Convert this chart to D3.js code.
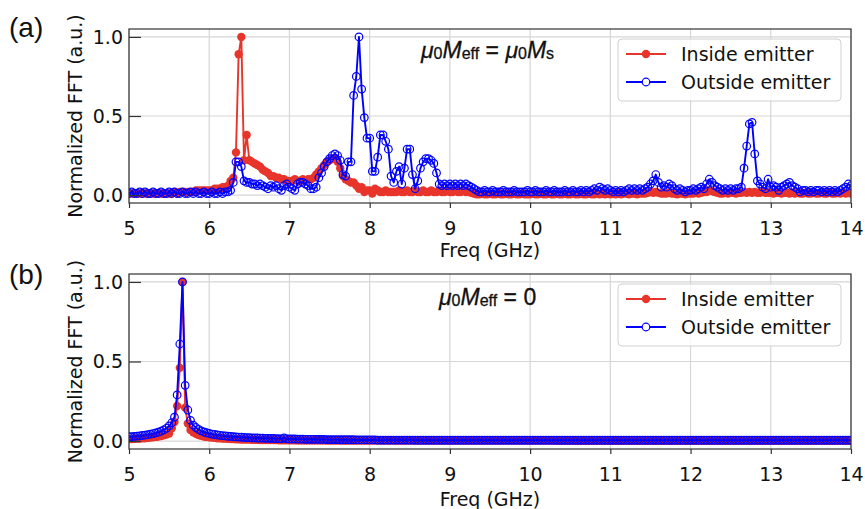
<!DOCTYPE html>
<html>
<head>
<meta charset="utf-8">
<script src="https://cdn.jsdelivr.net/npm/d3@7"></script>
<style>
  body { margin: 0; background: #fff; }
  svg { display: block; }
</style>
</head>
<body>
<svg id="chart" width="865" height="509"></svg>
<script>
// FFT bins: 5–14 GHz, 1/30 GHz resolution
const freqStart = 5;
const freqStep = 1 / 30;

// Tick labels
const xTickLabels = [5, 6, 7, 8, 9, 10, 11, 12, 13, 14];
const yTickLabels = [0.0, 0.5, 1.0];

// Series names
const seriesNames = ["Inside emitter", "Outside emitter"];

// (a) mu0 Meff = mu0 Ms — normalized FFT amplitude inside the emitter
const insideA = [
  0.01,0.01,0.01,0.01,0.01,0.01,0.01,0.01,0.01,0.01, 0.01,0.01,0.01,0.01,0.01,0.01,0.01,0.02,0.01,0.02, 0.02,0.02,0.02,0.02,0.02,0.03,0.03,0.03,0.03,0.03,
  0.03,0.03,0.04,0.04,0.04,0.05,0.05,0.06,0.09,0.11, 0.27,0.89,1.00,0.22,0.38,0.22,0.21,0.20,0.19,0.18, 0.16,0.15,0.14,0.12,0.12,0.11,0.11,0.10,0.10,0.09,
  0.09,0.09,0.10,0.09,0.09,0.10,0.09,0.10,0.10,0.11, 0.13,0.15,0.17,0.19,0.21,0.22,0.23,0.23,0.21,0.17, 0.12,0.10,0.09,0.08,0.08,0.06,0.04,0.05,0.02,0.03,
  0.03,0.01,0.04,0.03,0.02,0.02,0.03,0.02,0.02,0.02, 0.02,0.03,0.02,0.02,0.03,0.02,0.02,0.03,0.02,0.02, 0.03,0.02,0.02,0.03,0.02,0.02,0.03,0.02,0.02,0.03,
  0.02,0.02,0.03,0.02,0.02,0.03,0.02,0.02,0.015,0.01, 0.005,0.005,0.01,0.005,0.005,0.01,0.005,0.005,0.01,0.005, 0.005,0.01,0.005,0.005,0.01,0.005,0.005,0.01,0.005,0.005,
  0.005,0.01,0.005,0.005,0.01,0.005,0.005,0.01,0.005,0.005, 0.01,0.005,0.005,0.01,0.005,0.005,0.01,0.005,0.005,0.01, 0.005,0.005,0.01,0.005,0.005,0.01,0.005,0.01,0.005,0.01,
  0.005,0.01,0.005,0.01,0.005,0.01,0.01,0.005,0.01,0.01, 0.005,0.01,0.01,0.01,0.015,0.02,0.015,0.02,0.015,0.01, 0.01,0.01,0.015,0.01,0.01,0.005,0.01,0.01,0.005,0.01,
  0.01,0.01,0.015,0.01,0.015,0.02,0.02,0.03,0.025,0.02, 0.015,0.01,0.01,0.015,0.01,0.015,0.015,0.01,0.015,0.015, 0.02,0.015,0.02,0.015,0.02,0.015,0.015,0.02,0.015,0.015,
  0.015,0.01,0.015,0.015,0.01,0.015,0.015,0.01,0.015,0.01, 0.015,0.01,0.01,0.015,0.01,0.01,0.015,0.01,0.01,0.015, 0.01,0.01,0.015,0.01,0.01,0.015,0.01,0.015,0.01,0.015,
  0.01
];

// (a) normalized FFT amplitude outside the emitter
const outsideA = [
  0.01,0.02,0.01,0.01,0.02,0.01,0.02,0.01,0.01,0.02, 0.01,0.01,0.02,0.01,0.01,0.02,0.01,0.02,0.01,0.01, 0.02,0.01,0.01,0.02,0.01,0.02,0.01,0.01,0.02,0.01,
  0.01,0.02,0.01,0.01,0.02,0.01,0.02,0.02,0.03,0.08, 0.21,0.21,0.18,0.09,0.08,0.08,0.07,0.07,0.06,0.07, 0.06,0.05,0.04,0.06,0.05,0.06,0.04,0.03,0.06,0.07,
  0.05,0.04,0.03,0.07,0.08,0.08,0.07,0.06,0.04,0.04, 0.05,0.11,0.14,0.18,0.21,0.23,0.25,0.26,0.25,0.22, 0.13,0.12,0.21,0.21,0.63,0.75,1.00,0.67,0.49,0.36,
  0.36,0.15,0.15,0.24,0.38,0.38,0.34,0.29,0.12,0.08, 0.15,0.18,0.07,0.17,0.29,0.29,0.13,0.04,0.09,0.17, 0.21,0.23,0.23,0.22,0.20,0.14,0.07,0.06,0.07,0.06,
  0.07,0.06,0.07,0.06,0.07,0.06,0.07,0.06,0.05,0.04, 0.03,0.02,0.02,0.03,0.02,0.02,0.03,0.02,0.02,0.02, 0.03,0.02,0.02,0.02,0.03,0.02,0.02,0.02,0.02,0.03,
  0.02,0.02,0.03,0.02,0.02,0.02,0.03,0.02,0.02,0.03, 0.02,0.02,0.02,0.03,0.02,0.02,0.03,0.02,0.02,0.03, 0.02,0.03,0.02,0.03,0.04,0.03,0.05,0.04,0.03,0.04,
  0.03,0.02,0.03,0.02,0.03,0.02,0.03,0.04,0.03,0.04, 0.03,0.04,0.03,0.04,0.05,0.07,0.09,0.13,0.08,0.05, 0.06,0.05,0.07,0.06,0.04,0.03,0.04,0.03,0.02,0.03,
  0.03,0.04,0.03,0.04,0.05,0.04,0.07,0.10,0.08,0.06, 0.05,0.04,0.03,0.04,0.03,0.04,0.03,0.04,0.04,0.05, 0.17,0.31,0.45,0.46,0.26,0.09,0.07,0.05,0.04,0.10,
  0.05,0.06,0.05,0.03,0.05,0.06,0.07,0.08,0.06,0.05, 0.04,0.02,0.03,0.03,0.02,0.03,0.02,0.03,0.03,0.02, 0.03,0.02,0.03,0.02,0.03,0.02,0.03,0.04,0.05,0.07,
  0.06
];

// (b) mu0 Meff = 0 — normalized FFT amplitude inside the emitter
const insideB = [
  0.012,0.013,0.014,0.015,0.016,0.017,0.018,0.020,0.022,0.024, 0.026,0.029,0.032,0.036,0.041,0.048,0.080,0.12,0.22,0.46, 1.00,0.21,0.11,0.07,0.055,0.045,0.038,0.033,0.029,0.026,
  0.024,0.022,0.020,0.018,0.017,0.016,0.015,0.014,0.013,0.012, 0.011,0.011,0.010,0.010,0.009,0.009,0.008,0.008,0.008,0.007, 0.007,0.007,0.006,0.006,0.006,0.006,0.005,0.005,0.005,0.005,
  0.005,0.005,0.005,0.004,0.004,0.004,0.004,0.004,0.004,0.004, 0.004,0.004,0.004,0.004,0.003,0.003,0.003,0.003,0.003,0.003, 0.003,0.003,0.003,0.003,0.003,0.003,0.003,0.003,0.003,0.003,
  0.003,0.003,0.003,0.003,0.003,0.003,0.003,0.003,0.003,0.003, 0.003,0.003,0.003,0.003,0.003,0.003,0.003,0.003,0.003,0.003, 0.003,0.003,0.003,0.003,0.003,0.003,0.003,0.003,0.003,0.003,
  0.003,0.003,0.003,0.003,0.003,0.003,0.003,0.003,0.003,0.003, 0.003,0.003,0.003,0.003,0.003,0.003,0.003,0.003,0.003,0.003, 0.003,0.003,0.003,0.003,0.003,0.003,0.003,0.003,0.003,0.003,
  0.003,0.003,0.003,0.003,0.003,0.003,0.003,0.003,0.003,0.003, 0.002,0.002,0.002,0.002,0.002,0.002,0.002,0.002,0.002,0.002, 0.002,0.002,0.002,0.002,0.002,0.002,0.002,0.002,0.002,0.002,
  0.002,0.002,0.002,0.002,0.002,0.002,0.002,0.002,0.002,0.002, 0.002,0.002,0.002,0.002,0.002,0.002,0.002,0.002,0.002,0.002, 0.002,0.002,0.002,0.002,0.002,0.002,0.002,0.002,0.002,0.002,
  0.002,0.002,0.002,0.002,0.002,0.002,0.002,0.002,0.002,0.002, 0.002,0.002,0.002,0.002,0.002,0.002,0.002,0.002,0.002,0.002, 0.002,0.002,0.002,0.002,0.002,0.002,0.002,0.002,0.002,0.002,
  0.002,0.002,0.002,0.002,0.002,0.002,0.002,0.002,0.002,0.002, 0.002,0.002,0.002,0.002,0.002,0.002,0.002,0.002,0.002,0.002, 0.002,0.002,0.002,0.002,0.002,0.002,0.002,0.002,0.002,0.002,
  0.002
];

// (b) normalized FFT amplitude outside the emitter
const outsideB = [
  0.027,0.028,0.029,0.031,0.033,0.035,0.037,0.040,0.043,0.047, 0.051,0.056,0.062,0.070,0.080,0.095,0.115,0.15,0.29,0.61, 1.00,0.35,0.195,0.13,0.10,0.085,0.073,0.064,0.057,0.052,
  0.048,0.044,0.041,0.038,0.036,0.034,0.032,0.030,0.029,0.027, 0.026,0.025,0.024,0.023,0.022,0.021,0.020,0.020,0.019,0.018, 0.018,0.017,0.017,0.016,0.016,0.015,0.015,0.014,0.020,0.014,
  0.013,0.013,0.013,0.012,0.012,0.012,0.011,0.011,0.011,0.011, 0.010,0.010,0.010,0.010,0.009,0.009,0.009,0.009,0.009,0.008, 0.008,0.008,0.008,0.008,0.008,0.007,0.007,0.007,0.007,0.007,
  0.007,0.007,0.007,0.006,0.006,0.006,0.006,0.006,0.006,0.006, 0.006,0.006,0.006,0.006,0.006,0.006,0.006,0.005,0.005,0.005, 0.005,0.005,0.005,0.005,0.005,0.005,0.005,0.005,0.005,0.005,
  0.005,0.005,0.005,0.005,0.005,0.005,0.005,0.005,0.005,0.005, 0.005,0.005,0.005,0.005,0.005,0.005,0.005,0.005,0.005,0.005, 0.005,0.005,0.005,0.005,0.005,0.005,0.005,0.005,0.005,0.005,
  0.005,0.005,0.005,0.005,0.005,0.005,0.005,0.005,0.005,0.005, 0.005,0.005,0.005,0.005,0.005,0.005,0.005,0.005,0.005,0.005, 0.005,0.005,0.005,0.005,0.005,0.005,0.005,0.005,0.005,0.005,
  0.005,0.005,0.005,0.005,0.005,0.005,0.005,0.005,0.005,0.005, 0.005,0.005,0.005,0.005,0.005,0.005,0.005,0.005,0.005,0.005, 0.005,0.005,0.005,0.005,0.005,0.005,0.005,0.005,0.005,0.005,
  0.005,0.005,0.005,0.005,0.005,0.005,0.005,0.005,0.005,0.005, 0.005,0.005,0.005,0.005,0.005,0.005,0.005,0.005,0.005,0.005, 0.005,0.005,0.005,0.005,0.005,0.005,0.005,0.005,0.005,0.005,
  0.005,0.005,0.005,0.005,0.005,0.005,0.005,0.005,0.005,0.005, 0.005,0.005,0.005,0.005,0.005,0.005,0.005,0.005,0.005,0.005, 0.005,0.005,0.005,0.005,0.005,0.005,0.005,0.005,0.005,0.005,
  0.005
];

const freqBins = insideA.map((_, i) => freqStart + i * freqStep);

const COLOR_IN = "#e8352b";
const COLOR_OUT = "#0000ff";
const FONT = '"DejaVu Sans", sans-serif';
const ARIAL = '"Liberation Sans", Arial, sans-serif';

const svg = d3.select("#chart");
svg.append("rect").attr("width", 865).attr("height", 509).attr("fill", "#fff");

const X0 = 129, X1 = 851;

const panels = [
  { id: "a", top: 29, bottom: 203, titleY: 257, inside: insideA, outside: outsideA,
    tag: "(a)", tagY: 37, noteX: 421, noteY: 57.5,
    note: [["μ", "i"], ["0", "s"], ["M", "i"], ["eff", "s"], [" = ", "n"], ["μ", "i"], ["0", "s"], ["M", "i"], ["s", "s"]] },
  { id: "b", top: 274, bottom: 449, titleY: 506, inside: insideB, outside: outsideB,
    tag: "(b)", tagY: 284, noteX: 439, noteY: 305,
    note: [["μ", "i"], ["0", "s"], ["M", "i"], ["eff", "s"], [" = 0", "n"]] }
];

panels.forEach(p => {
  const x = d3.scaleLinear().domain([5, 14]).range([X0, X1]);
  const y = d3.scaleLinear().domain([-0.05, 1.05]).range([p.bottom, p.top]);
  const g = svg.append("g").attr("class", "panel-" + p.id);

  // grid
  g.append("g").selectAll("line").data(xTickLabels).join("line")
    .attr("x1", d => x(d)).attr("x2", d => x(d))
    .attr("y1", p.top).attr("y2", p.bottom)
    .attr("stroke", "#d6d6d6").attr("stroke-width", 1.2);
  g.append("g").selectAll("line").data(yTickLabels).join("line")
    .attr("x1", X0).attr("x2", X1)
    .attr("y1", d => y(d)).attr("y2", d => y(d))
    .attr("stroke", "#d6d6d6").attr("stroke-width", 1.2);

  // clip region for the data
  const clipId = "clip-" + p.id;
  svg.append("clipPath").attr("id", clipId).append("rect")
    .attr("x", X0).attr("y", p.top).attr("width", X1 - X0).attr("height", p.bottom - p.top);
  const plot = g.append("g").attr("clip-path", `url(#${clipId})`);

  const line = d3.line().x(d => x(d.f)).y(d => y(d.v));

  [[p.inside, COLOR_IN, true], [p.outside, COLOR_OUT, false]].forEach(([vals, color, filled]) => {
    const pts = vals.map((v, i) => ({ f: freqBins[i], v }));
    plot.append("path").datum(pts).attr("d", line)
      .attr("fill", "none").attr("stroke", color).attr("stroke-width", 1.9)
      .attr("stroke-linejoin", "round");
    plot.append("g").selectAll("circle").data(pts).join("circle")
      .attr("cx", d => x(d.f)).attr("cy", d => y(d.v))
      .attr("r", filled ? 4.2 : 3.8)
      .attr("fill", filled ? color : "none")
      .attr("stroke", filled ? "none" : color)
      .attr("stroke-width", filled ? 0 : 1.2);
  });

  // frame
  g.append("rect").attr("x", X0).attr("y", p.top)
    .attr("width", X1 - X0).attr("height", p.bottom - p.top)
    .attr("fill", "none").attr("stroke", "#333").attr("stroke-width", 1.2);

  // y axis (ticks pointing inward)
  const yAxis = d3.axisLeft(y).tickValues(yTickLabels).tickFormat(d3.format(".1f"))
    .tickSizeInner(-12).tickSizeOuter(0).tickPadding(6);
  const yg = g.append("g").attr("transform", `translate(${X0},0)`).call(yAxis);
  yg.select(".domain").remove();
  yg.attr("font-family", FONT).attr("font-size", 19);
  yg.selectAll("line").attr("stroke", "#333").attr("stroke-width", 1.2);
  yg.selectAll("text").attr("fill", "#111");

  // x axis
  const xAxis = d3.axisBottom(x).tickValues(xTickLabels).tickFormat(d3.format("d"))
    .tickSizeInner(5).tickSizeOuter(0).tickPadding(14);
  const xg = g.append("g").attr("transform", `translate(0,${p.bottom})`).call(xAxis);
  xg.select(".domain").remove();
  xg.attr("font-family", FONT).attr("font-size", 19);
  xg.selectAll("line").attr("stroke", "#333").attr("stroke-width", 1.2);
  xg.selectAll("text").attr("fill", "#111");

  // axis titles
  g.append("text").attr("x", (X0 + X1) / 2).attr("y", p.titleY)
    .attr("text-anchor", "middle").attr("font-family", FONT).attr("font-size", 19)
    .attr("fill", "#111").text("Freq (GHz)");
  g.append("text")
    .attr("transform", `translate(82,${(p.top + p.bottom) / 2}) rotate(-90)`)
    .attr("text-anchor", "middle").attr("font-family", FONT).attr("font-size", 19)
    .attr("fill", "#111").text("Normalized FFT (a.u.)");

  // panel tag
  g.append("text").attr("x", 9).attr("y", p.tagY)
    .attr("font-family", ARIAL).attr("font-size", 28).attr("fill", "#111").text(p.tag);

  // magnetization condition note
  const note = g.append("text").attr("x", p.noteX).attr("y", p.noteY)
    .attr("font-family", ARIAL).attr("font-size", 23).attr("fill", "#111")
    .attr("stroke", "#111").attr("stroke-width", 0.3);
  let sub = false;
  p.note.forEach(([t, kind]) => {
    const ts = note.append("tspan").text(t);
    if (kind === "i") ts.attr("font-style", "italic");
    if (kind === "s") {
      ts.attr("font-size", 16).attr("dy", sub ? 0 : 1);
      sub = true;
    } else {
      ts.attr("dy", sub ? -1 : 0);
      sub = false;
    }
  });

  // legend
  const lx = 618, ly = p.top + 10;
  const leg = g.append("g");
  leg.append("rect").attr("x", lx).attr("y", ly).attr("width", 223).attr("height", 62)
    .attr("rx", 4).attr("fill", "#fff").attr("fill-opacity", 0.85)
    .attr("stroke", "#d0d0d0").attr("stroke-width", 1);
  [[seriesNames[0], COLOR_IN, true], [seriesNames[1], COLOR_OUT, false]].forEach(([name, color, filled], k) => {
    const cy = ly + 15 + k * 28;
    leg.append("line").attr("x1", lx + 8).attr("x2", lx + 48).attr("y1", cy).attr("y2", cy)
      .attr("stroke", color).attr("stroke-width", 1.9);
    leg.append("circle").attr("cx", lx + 28).attr("cy", cy).attr("r", filled ? 4.2 : 3.8)
      .attr("fill", filled ? color : "#fff").attr("stroke", filled ? "none" : color)
      .attr("stroke-width", 1.2);
    leg.append("text").attr("x", lx + 63).attr("y", cy).attr("dy", "0.35em")
      .attr("font-family", FONT).attr("font-size", 19).attr("fill", "#111").text(name);
  });
});
</script>
</body>
</html>
